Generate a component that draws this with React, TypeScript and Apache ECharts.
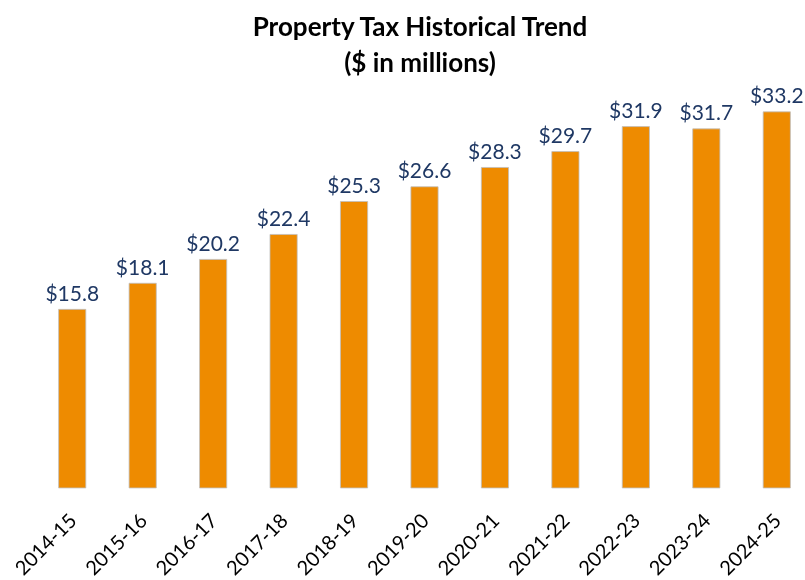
import React, { useEffect, useRef } from "react";
import * as echarts from "echarts";

const categories = ["2014-15", "2015-16", "2016-17", "2017-18", "2018-19", "2019-20", "2020-21", "2021-22", "2022-23", "2023-24", "2024-25"];
const values = [15.8, 18.1, 20.2, 22.4, 25.3, 26.6, 28.3, 29.7, 31.9, 31.7, 33.2];

export default function App() {
  const ref = useRef<HTMLDivElement>(null);
  useEffect(() => {
    const chart = echarts.init(ref.current!, null, { renderer: "svg" });
    chart.setOption({
      animation: false,
      title: {
        text: "Property Tax Historical Trend\n($ in millions)",
        left: 415,
        textAlign: "center",
        top: 3,
        textStyle: { fontFamily: "Lato", fontWeight: "bold", fontSize: 26, lineHeight: 36, color: "#000" },
      },
      grid: { left: 37, right: 3, top: 91, bottom: 91 },
      xAxis: {
        type: "category",
        data: categories,
        axisLine: { show: false },
        axisTick: { show: false },
        axisLabel: { rotate: 45, fontFamily: "Lato", fontSize: 20, color: "#000", margin: 28, interval: 0 },
      },
      yAxis: { type: "value", min: 0, max: 35, show: false, splitLine: { show: false } },
      series: [
        {
          type: "bar",
          data: values,
          barWidth: 28,
          itemStyle: { color: "#EE8B00", borderColor: "#BFBFBF", borderWidth: 0.8 },
          label: {
            show: true,
            position: "top",
            distance: 6,
            formatter: (p: any) => "$" + p.value.toFixed(1),
            fontFamily: "Lato",
            fontSize: 21,
            color: "#1F3864",
          },
        },
      ],
    });
    return () => chart.dispose();
  }, []);
  return <div ref={ref} style={{ position: "fixed", left: 0, top: 0, width: 815, height: 580 }} />;
}
